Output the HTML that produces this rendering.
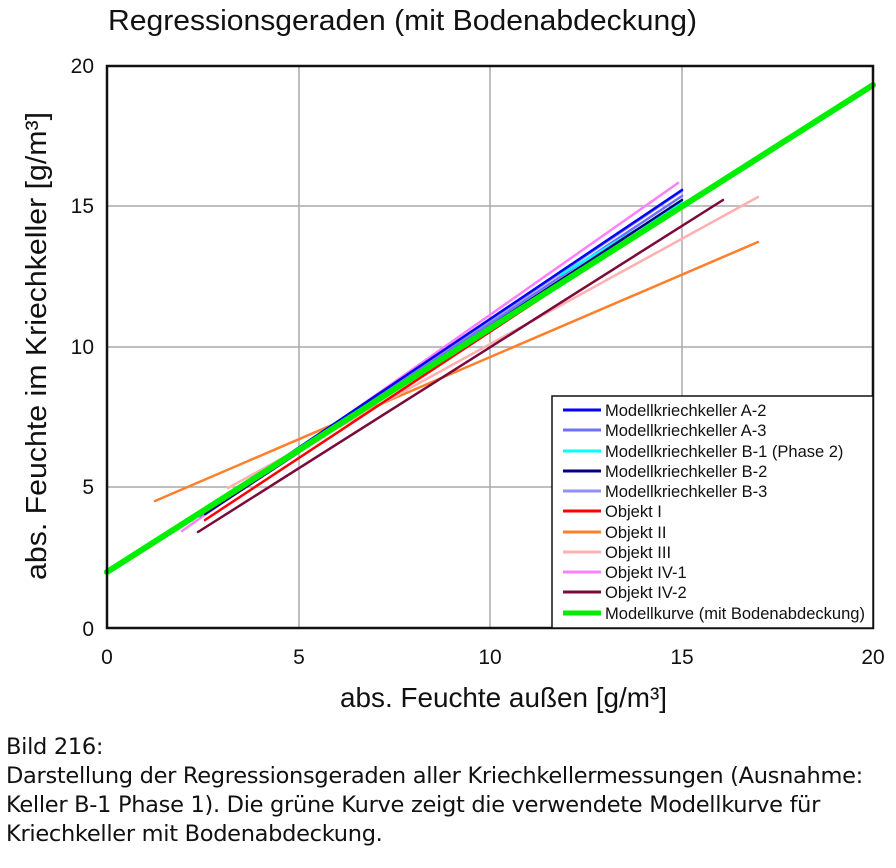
<!DOCTYPE html>
<html><head><meta charset="utf-8"><style>
body{margin:0;background:#fff;width:896px;height:868px;overflow:hidden}
svg text{font-family:"Liberation Sans",Arial,sans-serif}
.cap{position:absolute;left:6px;top:733px;font:22.5px "DejaVu Sans","Liberation Sans",sans-serif;line-height:29px;color:#111;letter-spacing:-0.3px;white-space:nowrap}
</style></head><body>
<svg width="896" height="868" style="position:absolute;left:0;top:0">
<text x="108" y="30" font-size="29" fill="#111" textLength="589" lengthAdjust="spacingAndGlyphs">Regressionsgeraden (mit Bodenabdeckung)</text>
<g stroke="#aaa" stroke-width="1.5">
<line x1="299" y1="66" x2="299" y2="628"/><line x1="490" y1="66" x2="490" y2="628"/><line x1="682" y1="66" x2="682" y2="628"/>
<line x1="107" y1="487" x2="873" y2="487"/><line x1="107" y1="347" x2="873" y2="347"/><line x1="107" y1="206" x2="873" y2="206"/>
</g>
<g font-size="21" fill="#111" text-anchor="end">
<text x="94" y="73">20</text><text x="94" y="213">15</text><text x="94" y="354">10</text><text x="94" y="494">5</text><text x="94" y="636">0</text>
</g>
<g font-size="21" fill="#111" text-anchor="middle">
<text x="107" y="664">0</text><text x="299" y="664">5</text><text x="490" y="664">10</text><text x="682" y="664">15</text><text x="873" y="664">20</text>
</g>
<text x="340" y="707" font-size="28" fill="#111" textLength="327" lengthAdjust="spacingAndGlyphs">abs. Feuchte außen [g/m³]</text>
<text transform="translate(46,580) rotate(-90)" font-size="29" fill="#111" textLength="468" lengthAdjust="spacingAndGlyphs">abs. Feuchte im Kriechkeller [g/m³]</text>
<g fill="none" stroke-linecap="round">
<line x1="155" y1="501" x2="758" y2="242" stroke="#ff7f2a" stroke-width="2.5"/>
<line x1="228" y1="488" x2="758" y2="197" stroke="#ffb0b0" stroke-width="2.5"/>
<line x1="198" y1="532" x2="723" y2="200" stroke="#7a0a3a" stroke-width="2.5"/>
<line x1="182" y1="531" x2="678" y2="183" stroke="#ff80ff" stroke-width="2.5"/>
<line x1="205" y1="520" x2="682" y2="205" stroke="#ff0000" stroke-width="2.5"/>
<line x1="200" y1="516" x2="682" y2="191" stroke="#9090ff" stroke-width="2.5"/>
<line x1="200" y1="516" x2="682" y2="196" stroke="#7070ff" stroke-width="2.5"/>
<line x1="560" y1="275" x2="682" y2="203" stroke="#00ffff" stroke-width="2.5"/>
<line x1="205" y1="514" x2="682" y2="200" stroke="#000080" stroke-width="2.5"/>
<line x1="200" y1="514" x2="682" y2="190" stroke="#0000ff" stroke-width="2.5"/>
<line x1="107" y1="572" x2="873" y2="85" stroke="#00ee00" stroke-width="6"/>
</g>
<rect x="107" y="66" width="766" height="562" fill="none" stroke="#111" stroke-width="2.5"/>
<rect x="552" y="396" width="321" height="232" fill="#fff" stroke="#111" stroke-width="1.5"/>
<g font-size="16.5" fill="#111">
<g stroke-width="3">
<line x1="563" y1="410" x2="601" y2="410" stroke="#0000ff"/>
<line x1="563" y1="430" x2="601" y2="430" stroke="#7070ff"/>
<line x1="563" y1="451" x2="601" y2="451" stroke="#00ffff"/>
<line x1="563" y1="471" x2="601" y2="471" stroke="#000080"/>
<line x1="563" y1="491" x2="601" y2="491" stroke="#9090ff"/>
<line x1="563" y1="511" x2="601" y2="511" stroke="#ff0000"/>
<line x1="563" y1="532" x2="601" y2="532" stroke="#ff7f2a"/>
<line x1="563" y1="552" x2="601" y2="552" stroke="#ffb0b0"/>
<line x1="563" y1="572" x2="601" y2="572" stroke="#ff80ff"/>
<line x1="563" y1="592" x2="601" y2="592" stroke="#7a0a3a"/>
<line x1="563" y1="613" x2="601" y2="613" stroke="#00ee00" stroke-width="5"/>
</g>
<text x="605" y="416">Modellkriechkeller A-2</text>
<text x="605" y="436">Modellkriechkeller A-3</text>
<text x="605" y="457">Modellkriechkeller B-1 (Phase 2)</text>
<text x="605" y="477">Modellkriechkeller B-2</text>
<text x="605" y="497">Modellkriechkeller B-3</text>
<text x="605" y="517">Objekt I</text>
<text x="605" y="538">Objekt II</text>
<text x="605" y="558">Objekt III</text>
<text x="605" y="578">Objekt IV-1</text>
<text x="605" y="598">Objekt IV-2</text>
<text x="605" y="619" textLength="260" lengthAdjust="spacingAndGlyphs">Modellkurve (mit Bodenabdeckung)</text>
</g>
</svg>
<div class="cap">Bild 216:<br>Darstellung der Regressionsgeraden aller Kriechkellermessungen (Ausnahme:<br>Keller B-1 Phase 1). Die grüne Kurve zeigt die verwendete Modellkurve für<br>Kriechkeller mit Bodenabdeckung.</div>
</body></html>
